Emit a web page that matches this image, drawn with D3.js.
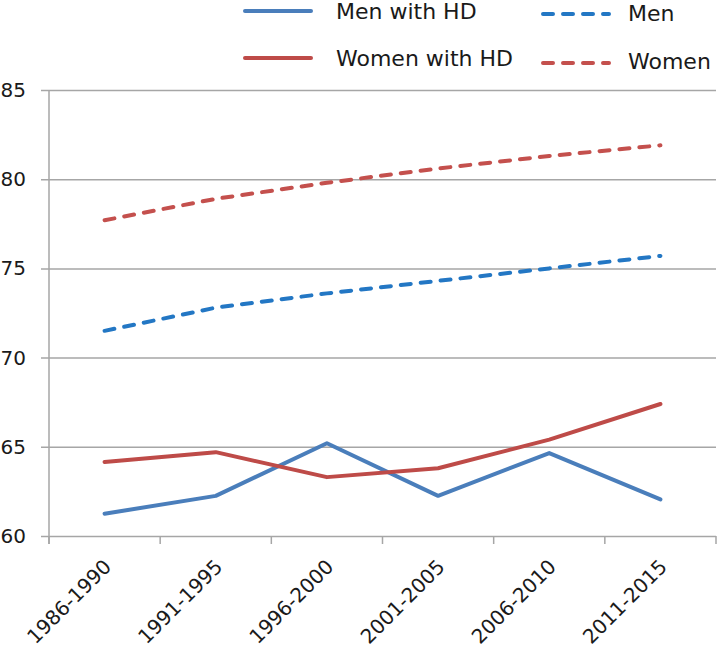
<!DOCTYPE html>
<html>
<head>
<meta charset="utf-8">
<script src="https://cdn.jsdelivr.net/npm/d3@7"></script>
<style>
  html, body { margin: 0; padding: 0; background: #fff; }
  svg { display: block; }
  text { font-family: "DejaVu Sans", sans-serif; fill: #1a1a1a; }
</style>
</head>
<body>
<svg id="chart" width="717" height="651"></svg>
<script>
const categories = ["1986-1990", "1991-1995", "1996-2000", "2001-2005", "2006-2010", "2011-2015"];
const menWithHD   = [61.25, 62.25, 65.2, 62.25, 64.65, 62.05];
const womenWithHD = [64.15, 64.7, 63.3, 63.8, 65.4, 67.4];
const men         = [71.5, 72.8, 73.6, 74.3, 75.0, 75.7];
const women       = [77.7, 78.9, 79.8, 80.6, 81.3, 81.9];
const yTicks = [60, 65, 70, 75, 80, 85];

const seriesList = [
  { name: "Men with HD",   values: menWithHD,   color: "#4a7ebb", dash: null },
  { name: "Women with HD", values: womenWithHD, color: "#be4b48", dash: null },
  { name: "Men",           values: men,         color: "#2377c4", dash: "10,10" },
  { name: "Women",         values: women,       color: "#c4504d", dash: "10,10" }
];

const svg = d3.select("#chart");
const plotLeft = 49, plotRight = 716, plotTop = 90, plotBottom = 536;

const x = d3.scaleBand().domain(categories).range([plotLeft, plotRight]).paddingInner(0).paddingOuter(0);
const y = d3.scaleLinear().domain([60, 85]).range([plotBottom, plotTop]);
const gridColor = "#a6a6a6";

// horizontal gridlines + y axis ticks
const yAxis = d3.axisLeft(y).tickValues(yTicks).tickSize(-(plotRight - plotLeft));
const gy = svg.append("g").attr("transform", `translate(${plotLeft},0)`).call(yAxis);
gy.select(".domain").remove();
gy.selectAll(".tick line").attr("stroke", gridColor).attr("stroke-width", 1.5).attr("x1", -8);
gy.selectAll(".tick text").attr("font-size", 20).attr("x", -23)
  .style("font-family", "'DejaVu Sans', sans-serif").attr("fill", "#1a1a1a");

// vertical y axis line
svg.append("line").attr("x1", plotLeft).attr("x2", plotLeft).attr("y1", plotTop).attr("y2", plotBottom + 8)
  .attr("stroke", gridColor).attr("stroke-width", 1.5);

// x axis tick marks at band boundaries
const bounds = categories.map(c => x(c)).concat([x(categories[categories.length - 1]) + x.bandwidth()]);
svg.append("g").selectAll("line").data(bounds).join("line")
  .attr("x1", d => d).attr("x2", d => d).attr("y1", plotBottom).attr("y2", plotBottom + 8)
  .attr("stroke", gridColor).attr("stroke-width", 1.5);

// x labels
svg.append("g").selectAll("text").data(categories).join("text")
  .attr("transform", d => `translate(${x(d) + x.bandwidth() / 2 + 3},563) rotate(-45)`)
  .attr("text-anchor", "end").attr("dy", "0.35em").attr("font-size", 20)
  .text(d => d);

// lines
const line = d3.line()
  .x((d, i) => x(categories[i]) + x.bandwidth() / 2)
  .y(d => y(d));

seriesList.forEach(s => {
  svg.append("path").datum(s.values)
    .attr("d", line)
    .attr("fill", "none")
    .attr("stroke", s.color)
    .attr("stroke-width", 4)
    .attr("stroke-linecap", "round")
    .attr("stroke-linejoin", "round")
    .attr("stroke-dasharray", s.dash);
});

// legend
const legendItems = [
  { s: seriesList[0], lx: 245, ly: 11, tx: 336, ty: 11 },
  { s: seriesList[2], lx: 543, ly: 14, tx: 628, ty: 13 },
  { s: seriesList[1], lx: 245, ly: 58, tx: 336, ty: 58 },
  { s: seriesList[3], lx: 543, ly: 63, tx: 628, ty: 61 }
];
const lg = svg.append("g");
legendItems.forEach(it => {
  lg.append("line").attr("x1", it.lx).attr("x2", it.lx + 66)
    .attr("y1", it.ly).attr("y2", it.ly)
    .attr("stroke", it.s.color).attr("stroke-width", 4).attr("stroke-linecap", "round")
    .attr("stroke-dasharray", it.s.dash);
  lg.append("text").attr("x", it.tx).attr("y", it.ty)
    .attr("dy", "0.36em").attr("font-size", 22).text(it.s.name);
});
</script>
</body>
</html>
